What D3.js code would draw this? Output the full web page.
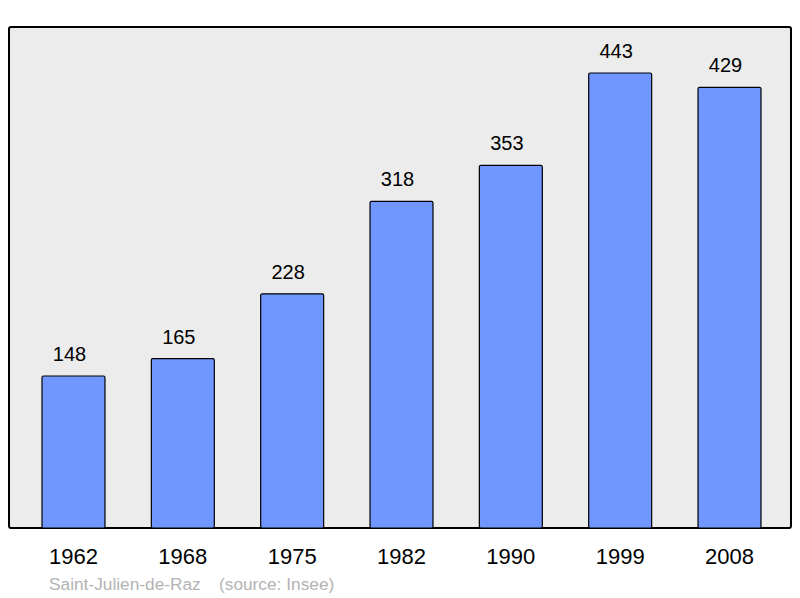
<!DOCTYPE html>
<html>
<head>
<meta charset="utf-8">
<script src="https://cdn.jsdelivr.net/npm/d3@7"></script>
<style>
  body { margin: 0; background: #fff; }
  svg { display: block; font-family: "Liberation Sans", Arial, sans-serif; }
</style>
</head>
<body>
<div id="chart"></div>
<script>
// population data
var years = ["1962", "1968", "1975", "1982", "1990", "1999", "2008"];
var population = [148, 165, 228, 318, 353, 443, 429];
var commune = "Saint-Julien-de-Raz";
var source = "(source: Insee)";

var width = 800, height = 598;
var frame = { left: 9, top: 27, right: 791, bottom: 528 };

var svg = d3.select("#chart").append("svg")
    .attr("width", width)
    .attr("height", height);

// x: one band per census year
var x = d3.scaleBand()
    .domain(years)
    .range([42, 761])
    .paddingInner(0.424)
    .paddingOuter(0);

// y: 0 at the bottom of the frame
var y = d3.scaleLinear()
    .domain([0, 487.8])
    .range([frame.bottom, frame.top]);

// background frame
svg.append("rect")
    .attr("x", frame.left)
    .attr("y", frame.top)
    .attr("width", frame.right - frame.left)
    .attr("height", frame.bottom - frame.top)
    .attr("rx", 2)
    .attr("fill", "#ececec")
    .attr("stroke", "#000")
    .attr("stroke-width", 2);

var data = years.map(function (d, i) { return { year: d, value: population[i] }; });

svg.selectAll("rect.bar")
    .data(data)
    .enter()
    .append("rect")
    .attr("class", "bar")
    .attr("x", function (d) { return x(d.year); })
    .attr("y", function (d) { return y(d.value); })
    .attr("width", x.bandwidth())
    .attr("height", function (d) { return frame.bottom - y(d.value); })
    .attr("rx", 1.5)
    .attr("fill", "#7096ff")
    .attr("stroke", "#000")
    .attr("stroke-width", 1.2);

// value labels above bars (sit a bit left of centre in the original)
svg.selectAll("text.value")
    .data(data)
    .enter()
    .append("text")
    .attr("class", "value")
    .attr("x", function (d) { return x(d.year) + x.bandwidth() / 2 - 4; })
    .attr("y", function (d) { return y(d.value) - 15; })
    .attr("text-anchor", "middle")
    .attr("font-size", 20)
    .attr("fill", "#000")
    .text(function (d) { return d.value; });

// year labels under the frame
var xAxis = d3.axisBottom(x).tickSize(0).tickPadding(0);
var gx = svg.append("g")
    .attr("transform", "translate(0," + (frame.bottom + 36) + ")")
    .call(xAxis);
gx.select(".domain").remove();
gx.selectAll("text")
    .attr("dy", 0)
    .attr("font-family", "Liberation Sans, Arial, sans-serif")
    .attr("font-size", 22)
    .attr("fill", "#000");

// footer
svg.append("text")
    .attr("x", 49)
    .attr("y", 590)
    .attr("font-size", 17.3)
    .attr("fill", "#b3b3b3")
    .text(commune);
svg.append("text")
    .attr("x", 219)
    .attr("y", 590)
    .attr("font-size", 17.3)
    .attr("fill", "#b3b3b3")
    .text(source);
</script>
</body>
</html>
